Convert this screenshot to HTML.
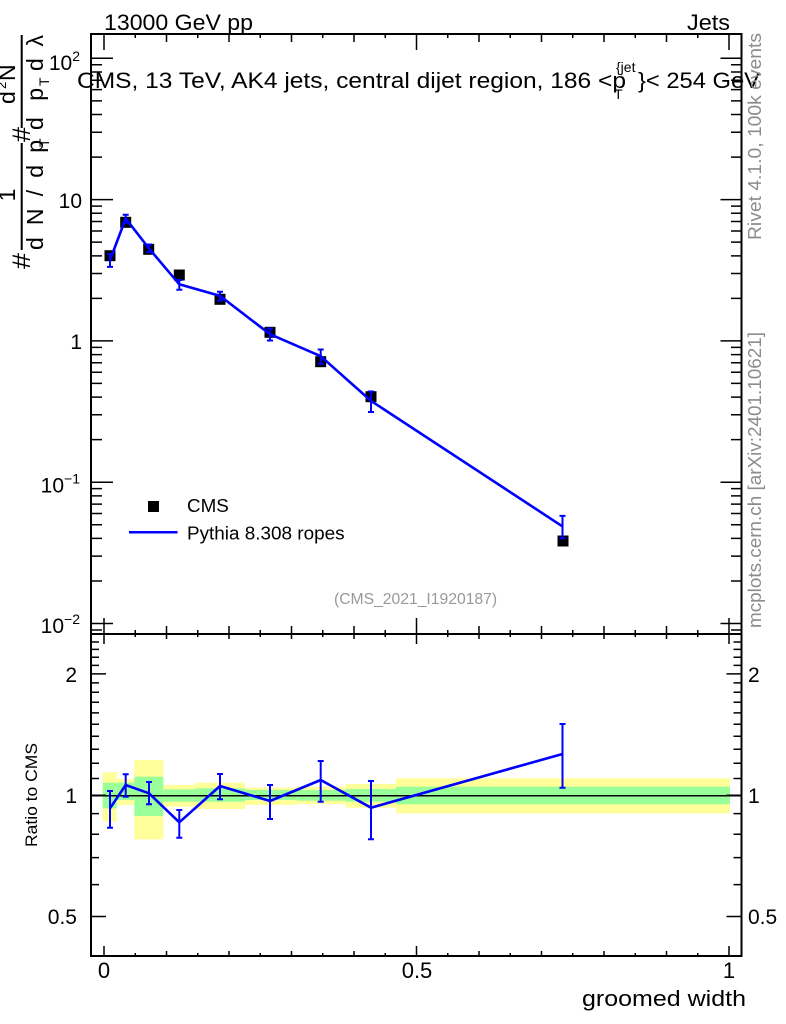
<!DOCTYPE html>
<html>
<head>
<meta charset="utf-8">
<style>
html,body{margin:0;padding:0;background:#fff;}
svg{display:block;}
text{font-family:"Liberation Sans",Arial,sans-serif;fill:#000;}
</style>
</head>
<body>
<svg width="786" height="1024" viewBox="0 0 786 1024" xmlns="http://www.w3.org/2000/svg">
<rect x="0" y="0" width="786" height="1024" fill="#fff"/>

<!-- Ratio bands -->
<g>
<rect x="102.7" y="772.3" width="14" height="49.4" fill="#ffff99"/>
<rect x="102.7" y="782.7" width="14" height="25.6" fill="#99ff99"/>
<rect x="116.7" y="779" width="17.6" height="26" fill="#ffff99"/>
<rect x="116.7" y="782.7" width="17.6" height="17.3" fill="#99ff99"/>
<rect x="134.3" y="760" width="29" height="79.3" fill="#ffff99"/>
<rect x="134.3" y="776.7" width="29" height="39.3" fill="#99ff99"/>
<rect x="163.3" y="785" width="31.7" height="21.7" fill="#ffff99"/>
<rect x="163.3" y="789.3" width="31.7" height="12.4" fill="#99ff99"/>
<rect x="195" y="782.7" width="50" height="26.3" fill="#ffff99"/>
<rect x="195" y="788.3" width="50" height="13.4" fill="#99ff99"/>
<rect x="245" y="787.7" width="51.7" height="17.3" fill="#ffff99"/>
<rect x="245" y="790" width="51.7" height="10" fill="#99ff99"/>
<rect x="296.7" y="786.7" width="49" height="17.3" fill="#ffff99"/>
<rect x="296.7" y="790" width="49" height="10.7" fill="#99ff99"/>
<rect x="345.7" y="784" width="50.3" height="23.7" fill="#ffff99"/>
<rect x="345.7" y="789" width="50.3" height="12.7" fill="#99ff99"/>
<rect x="396" y="778.3" width="334" height="35" fill="#ffff99"/>
<rect x="396" y="786.7" width="334" height="17.6" fill="#99ff99"/>
</g>
<line x1="91" y1="795.7" x2="741.5" y2="795.7" stroke="#000" stroke-width="1.5"/>

<!-- Frames -->
<rect x="91" y="34" width="650.5" height="600" fill="none" stroke="#000" stroke-width="2"/>
<rect x="91" y="634" width="650.5" height="322" fill="none" stroke="#000" stroke-width="2"/>

<!-- Main x ticks (top and bottom) -->
<path stroke="#000" stroke-width="1.5" fill="none" d="
M104 34v16 M135.25 34v4 M166.5 34v8 M197.75 34v4 M229 34v8 M260.25 34v4 M291.5 34v8 M322.75 34v4 M354 34v8 M385.25 34v4 M416.5 34v16 M447.75 34v4 M479 34v8 M510.25 34v4 M541.5 34v8 M572.75 34v4 M604 34v8 M635.25 34v4 M666.5 34v8 M697.75 34v4 M729 34v16
M104 634v-16 M135.25 634v-4 M166.5 634v-8 M197.75 634v-4 M229 634v-8 M260.25 634v-4 M291.5 634v-8 M322.75 634v-4 M354 634v-8 M385.25 634v-4 M416.5 634v-16 M447.75 634v-4 M479 634v-8 M510.25 634v-4 M541.5 634v-8 M572.75 634v-4 M604 634v-8 M635.25 634v-4 M666.5 634v-8 M697.75 634v-4 M729 634v-16
"/>
<!-- Ratio x ticks -->
<path stroke="#000" stroke-width="1.5" fill="none" d="
M104 634v10 M135.25 634v3 M166.5 634v5 M197.75 634v3 M229 634v5 M260.25 634v3 M291.5 634v5 M322.75 634v3 M354 634v5 M385.25 634v3 M416.5 634v10 M447.75 634v3 M479 634v5 M510.25 634v3 M541.5 634v5 M572.75 634v3 M604 634v5 M635.25 634v3 M666.5 634v5 M697.75 634v3 M729 634v10
M104 956v-10 M135.25 956v-3 M166.5 956v-5 M197.75 956v-3 M229 956v-5 M260.25 956v-3 M291.5 956v-5 M322.75 956v-3 M354 956v-5 M385.25 956v-3 M416.5 956v-10 M447.75 956v-3 M479 956v-5 M510.25 956v-3 M541.5 956v-5 M572.75 956v-3 M604 956v-5 M635.25 956v-3 M666.5 956v-5 M697.75 956v-3 M729 956v-10
"/>

<!-- Main y ticks left -->
<path stroke="#000" stroke-width="1.5" fill="none" d="
M91 58.3h22 M91 199.6h22 M91 340.9h22 M91 482.2h22 M91 623.5h22
M91 64.77h11 M91 71.99h11 M91 80.19h11 M91 89.64h11 M91 100.83h11 M91 114.52h11 M91 132.19h11 M91 157.07h11
M91 206.07h11 M91 213.29h11 M91 221.49h11 M91 230.94h11 M91 242.13h11 M91 255.82h11 M91 273.49h11 M91 298.37h11
M91 347.37h11 M91 354.59h11 M91 362.79h11 M91 372.24h11 M91 383.43h11 M91 397.12h11 M91 414.79h11 M91 439.67h11
M91 488.67h11 M91 495.89h11 M91 504.09h11 M91 513.54h11 M91 524.73h11 M91 538.42h11 M91 556.09h11 M91 580.97h11
M91 629.97h11
"/>
<!-- Main y ticks right -->
<path stroke="#000" stroke-width="1.5" fill="none" d="
M741.5 58.3h-21 M741.5 199.6h-21 M741.5 340.9h-21 M741.5 482.2h-21 M741.5 623.5h-21
M741.5 64.77h-10.5 M741.5 71.99h-10.5 M741.5 80.19h-10.5 M741.5 89.64h-10.5 M741.5 100.83h-10.5 M741.5 114.52h-10.5 M741.5 132.19h-10.5 M741.5 157.07h-10.5
M741.5 206.07h-10.5 M741.5 213.29h-10.5 M741.5 221.49h-10.5 M741.5 230.94h-10.5 M741.5 242.13h-10.5 M741.5 255.82h-10.5 M741.5 273.49h-10.5 M741.5 298.37h-10.5
M741.5 347.37h-10.5 M741.5 354.59h-10.5 M741.5 362.79h-10.5 M741.5 372.24h-10.5 M741.5 383.43h-10.5 M741.5 397.12h-10.5 M741.5 414.79h-10.5 M741.5 439.67h-10.5
M741.5 488.67h-10.5 M741.5 495.89h-10.5 M741.5 504.09h-10.5 M741.5 513.54h-10.5 M741.5 524.73h-10.5 M741.5 538.42h-10.5 M741.5 556.09h-10.5 M741.5 580.97h-10.5
M741.5 629.97h-10.5
"/>

<!-- Ratio y ticks left -->
<path stroke="#000" stroke-width="1.5" fill="none" d="
M91 673.9h15 M91 795.2h15 M91 916.5h15
M91 642h8 M91 649.4h8 M91 657.2h8 M91 665.4h8 M91 682.9h8 M91 692.3h8 M91 702.3h8 M91 712.9h8 M91 724.2h8 M91 736.3h8 M91 749.3h8 M91 763.3h8 M91 778.5h8 M91 813.6h8 M91 834.3h8 M91 857.6h8 M91 884.6h8
"/>
<!-- Ratio y ticks right -->
<path stroke="#000" stroke-width="1.5" fill="none" d="
M741.5 673.9h-15 M741.5 795.2h-15 M741.5 916.5h-15
M741.5 642h-8 M741.5 649.4h-8 M741.5 657.2h-8 M741.5 665.4h-8 M741.5 682.9h-8 M741.5 692.3h-8 M741.5 702.3h-8 M741.5 712.9h-8 M741.5 724.2h-8 M741.5 736.3h-8 M741.5 749.3h-8 M741.5 763.3h-8 M741.5 778.5h-8 M741.5 813.6h-8 M741.5 834.3h-8 M741.5 857.6h-8 M741.5 884.6h-8
"/>

<!-- CMS data squares -->
<g fill="#000">
<rect x="104.5" y="250.2" width="11" height="11"/>
<rect x="120.2" y="216.8" width="11" height="11"/>
<rect x="143.2" y="243.8" width="11" height="11"/>
<rect x="173.8" y="269.5" width="11" height="11"/>
<rect x="214.5" y="293.8" width="11" height="11"/>
<rect x="264.5" y="326.8" width="11" height="11"/>
<rect x="315.2" y="356.2" width="11" height="11"/>
<rect x="365.5" y="391.2" width="11" height="11"/>
<rect x="557.5" y="535.5" width="11" height="11"/>
</g>

<!-- Pythia main -->
<polyline fill="none" stroke="#0000ff" stroke-width="2.6" stroke-linejoin="round" points="110,260.1 125.7,218.5 149,248.5 179.3,284.3 220,295.9 270,334.2 320.7,356.2 371,400.9 562.5,526.4"/>
<path fill="none" stroke="#0000ff" stroke-width="2" d="
M110 254.1V266.9 M107 254.1h6 M107 266.9h6
M125.7 214.8V222.7 M122.7 214.8h6 M122.7 222.7h6
M149 244.5V252.3 M146 244.5h6 M146 252.3h6
M179.3 280V289.7 M176.3 280h6 M176.3 289.7h6
M220 291.7V300.6 M217 291.7h6 M217 300.6h6
M270 328.5V340.5 M267 328.5h6 M267 340.5h6
M320.7 349.5V363.8 M317.7 349.5h6 M317.7 363.8h6
M371 391.5V412 M368 391.5h6 M368 412h6
M562.5 515.9V538.2 M559.5 515.9h6 M559.5 538.2h6
"/>

<!-- Pythia ratio -->
<polyline fill="none" stroke="#0000ff" stroke-width="2.6" stroke-linejoin="round" points="110,808.3 125.7,785 149,793.3 179.3,822.3 220,786 270,801 320.7,780 371,807.7 562.5,754"/>
<path fill="none" stroke="#0000ff" stroke-width="2" d="
M110 791V827.7 M107 791h6 M107 827.7h6
M125.7 774.3V796.7 M122.7 774.3h6 M122.7 796.7h6
M149 782V804.3 M146 782h6 M146 804.3h6
M179.3 810V837.7 M176.3 810h6 M176.3 837.7h6
M220 774V799.3 M217 774h6 M217 799.3h6
M270 785V819 M267 785h6 M267 819h6
M320.7 761V801.7 M317.7 761h6 M317.7 801.7h6
M371 781V839.3 M368 781h6 M368 839.3h6
M562.5 724V787.7 M559.5 724h6 M559.5 787.7h6
"/>

<!-- Top labels -->
<text x="104" y="30" font-size="22" textLength="149" lengthAdjust="spacingAndGlyphs">13000 GeV pp</text>
<text x="687" y="30" font-size="22" textLength="43" lengthAdjust="spacingAndGlyphs">Jets</text>

<!-- Title -->
<text x="77" y="88" font-size="22" textLength="549" lengthAdjust="spacingAndGlyphs">CMS, 13 TeV, AK4 jets, central dijet region, 186 &lt;p</text>
<text x="616" y="72" font-size="14">{jet</text>
<text x="614" y="99" font-size="14">T</text>
<text x="638" y="88" font-size="22" textLength="122" lengthAdjust="spacingAndGlyphs">}&lt; 254 GeV</text>

<!-- Main y labels -->
<text x="80" y="70" font-size="21" text-anchor="end">10<tspan dy="-9" font-size="14">2</tspan></text>
<text x="82" y="208" font-size="21" text-anchor="end">10</text>
<text x="82" y="349" font-size="21" text-anchor="end">1</text>
<text x="80" y="492.5" font-size="21" text-anchor="end">10<tspan dy="-9" font-size="14">−1</tspan></text>
<text x="80" y="633" font-size="21" text-anchor="end">10<tspan dy="-9" font-size="14">−2</tspan></text>

<!-- Ratio y labels -->
<text x="77" y="682" font-size="21" text-anchor="end">2</text>
<text x="77" y="803" font-size="21" text-anchor="end">1</text>
<text x="77" y="924" font-size="21" text-anchor="end">0.5</text>
<text x="748" y="682" font-size="21">2</text>
<text x="748" y="803" font-size="21">1</text>
<text x="748" y="924" font-size="21">0.5</text>

<!-- X labels -->
<text x="104" y="978" font-size="22" text-anchor="middle">0</text>
<text x="417" y="978" font-size="22" text-anchor="middle">0.5</text>
<text x="729" y="978" font-size="22" text-anchor="middle">1</text>
<text x="582" y="1006" font-size="22" textLength="164" lengthAdjust="spacingAndGlyphs">groomed width</text>

<!-- Ratio y title -->
<text transform="translate(37,795) rotate(-90)" font-size="17" text-anchor="middle" textLength="104" lengthAdjust="spacingAndGlyphs">Ratio to CMS</text>

<!-- Legend -->
<rect x="148" y="501" width="11" height="11" fill="#000"/>
<text x="187" y="512" font-size="18.8">CMS</text>
<line x1="129" y1="532.3" x2="177.5" y2="532.3" stroke="#0000ff" stroke-width="2.5"/>
<text x="187" y="539.5" font-size="18.9">Pythia 8.308 ropes</text>
<text x="334" y="604" font-size="15.7" style="fill:#999">(CMS_2021_I1920187)</text>

<!-- Right side gray text -->
<text transform="translate(761,240) rotate(-90)" font-size="18.5" style="fill:#8c8c8c" textLength="207" lengthAdjust="spacingAndGlyphs">Rivet 4.1.0,  100k events</text>
<text transform="translate(761,628) rotate(-90)" font-size="18.5" style="fill:#8c8c8c" textLength="296" lengthAdjust="spacingAndGlyphs">mcplots.cern.ch [arXiv:2401.10621]</text>

<!-- Main y-axis title (rotated fraction) -->
<line x1="21.7" y1="143" x2="21.7" y2="250" stroke="#000" stroke-width="2"/>
<line x1="21.7" y1="35" x2="21.7" y2="128" stroke="#000" stroke-width="2"/>
<text transform="translate(30,269) rotate(-90)" font-size="25" textLength="16" lengthAdjust="spacingAndGlyphs">#</text>
<text transform="translate(30,142) rotate(-90)" font-size="25" textLength="15" lengthAdjust="spacingAndGlyphs">#</text>
<text transform="translate(15,195) rotate(-90)" font-size="23" text-anchor="middle">1</text>
<text transform="translate(43,250) rotate(-90)" font-size="23" textLength="110" lengthAdjust="spacing">d N / d p</text>
<text transform="translate(49,147) rotate(-90)" font-size="14">T</text>
<text transform="translate(15,104) rotate(-90)" font-size="23">d</text>
<text transform="translate(6,89) rotate(-90)" font-size="13">2</text>
<text transform="translate(15,81) rotate(-90)" font-size="23">N</text>
<text transform="translate(43,130) rotate(-90)" font-size="23" textLength="42" lengthAdjust="spacing">d p</text>
<text transform="translate(49,86) rotate(-90)" font-size="14">T</text>
<text transform="translate(43,71) rotate(-90)" font-size="23" textLength="36" lengthAdjust="spacing">d λ</text>
</svg>
</body>
</html>
